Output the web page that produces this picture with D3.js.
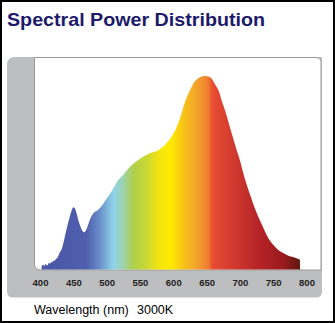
<!DOCTYPE html>
<html><head><meta charset="utf-8">
<script src="https://cdn.jsdelivr.net/npm/d3@7"></script>
<style>html,body{margin:0;padding:0;background:#fff;}svg{display:block;}</style>
</head><body>
<svg id="c" width="335" height="323"></svg>
<script>
const wavelengths = [402,403,405,407,408,410,412,413,415,417,418,420,422,424,426,428,430,433,436,440,444,447,450,452,455,458,461,464,467,470,474,478,482,486,490,495,500,505,510,517,525,532,540,548,556,563,570,577,583,588,593,598,603,610,617,625,632,638,643,648,653,658,663,668,673,678,683,688,694,700,705,710,716,722,728,734,740,746,752,758,765,772,780,786,790,790.5];
const power = [0,0.02,0.025,0.018,0.03,0.022,0.025,0.035,0.03,0.04,0.035,0.045,0.045,0.055,0.06,0.075,0.09,0.11,0.15,0.21,0.265,0.30,0.322,0.318,0.29,0.25,0.22,0.198,0.193,0.21,0.25,0.28,0.297,0.305,0.318,0.34,0.365,0.39,0.42,0.46,0.49,0.52,0.545,0.567,0.585,0.598,0.607,0.615,0.63,0.645,0.665,0.69,0.72,0.78,0.86,0.925,0.97,0.99,0.998,1.0,0.997,0.985,0.955,0.925,0.87,0.82,0.76,0.70,0.63,0.565,0.50,0.44,0.38,0.32,0.27,0.225,0.18,0.145,0.12,0.10,0.085,0.073,0.064,0.057,0.05,0];
const tickLabels = [400,450,500,550,600,650,700,750,800];
const colorStops = [
  [400,"#4b55a5"],[470,"#4f5fad"],[490,"#6a8fc9"],[510,"#8ed3ea"],[525,"#9fd2ae"],
  [540,"#aed04c"],[560,"#cad834"],[580,"#f6e60e"],[597,"#ffea00"],[615,"#f8c418"],
  [640,"#f29a2e"],[653,"#ef7a30"],[659,"#e84c33"],[690,"#d03a2e"],[730,"#b52327"],
  [765,"#9a1a1e"],[790,"#5e1a10"]
];
const title = "Spectral Power Distribution";
const caption = ["Wavelength (nm)", "3000K"];

const svg = d3.select("#c");
const x = d3.scaleLinear().domain([400,800]).range([40,306.5]);
const y = d3.scaleLinear().domain([0,1]).range([269.5,76]);

// outer border
svg.append("rect").attr("x",1).attr("y",1).attr("width",333).attr("height",321)
  .attr("fill","#fff").attr("stroke","#000").attr("stroke-width",2);

svg.append("text").attr("x",7).attr("y",26).text(title)
  .attr("font-family","Liberation Sans, Arial, sans-serif").attr("font-weight","bold")
  .attr("font-size",18.5).attr("fill","#1d1a6b")
  .attr("textLength",258).attr("lengthAdjust","spacingAndGlyphs");

// gray panel with rounded left corners and bottom-right
const px0=7, py0=57, px1=322, py1=297.5, r1=8, r2=6;
svg.append("path").attr("fill","#bdbec0")
  .attr("d",`M${px0+r1},${py0} H${px1} V${py1-r2} Q${px1},${py1} ${px1-r2},${py1} H${px0+r2} Q${px0},${py1} ${px0},${py1-r2} V${py0+r1} Q${px0},${py0} ${px0+r1},${py0} Z`);

// plot area
const ax0=34.5, ay0=57.5, ax1=321, ay1=270;
const plotPath = `M${ax0},${ay0} H${ax1-5} Q${ax1},${ay0} ${ax1},${ay0+5} V${ay1} H${ax0+6} Q${ax0},${ay1} ${ax0},${ay1-6} Z`;
svg.append("path").attr("d",plotPath).attr("fill","#fff").attr("stroke","#9a9a9a").attr("stroke-width",1);

const defs = svg.append("defs");
defs.append("clipPath").attr("id","clip").append("path").attr("d",plotPath);
const grad = defs.append("linearGradient").attr("id","spec")
  .attr("gradientUnits","userSpaceOnUse")
  .attr("x1",x(400)).attr("x2",x(790)).attr("y1",0).attr("y2",0);
grad.selectAll("stop").data(colorStops).join("stop")
  .attr("offset",d=>(x(d[0])-x(400))/(x(790)-x(400)))
  .attr("stop-color",d=>d[1]);

const data = wavelengths.map((w,i)=>({w, p:power[i]}));
const area = d3.area().x(d=>x(d.w)).y0(y(0)).y1(d=>y(d.p)).curve(d3.curveMonotoneX);
svg.append("path").datum(data).attr("d",area).attr("fill","url(#spec)").attr("clip-path","url(#clip)");

// axis
const axis = d3.axisBottom(x).tickValues(tickLabels).tickSize(0).tickPadding(0).tickFormat(d3.format("d"));
const g = svg.append("g").attr("transform","translate(0,279)").call(axis);
g.select(".domain").remove();
g.selectAll("text").attr("font-family","Liberation Sans, Arial, sans-serif").attr("font-weight","bold")
  .attr("font-size",9.5).attr("fill","#222").attr("dy","0.75em");

svg.append("text").attr("x",34).attr("y",314).text(caption[0])
  .attr("font-family","Liberation Sans, Arial, sans-serif").attr("font-size",12.5).attr("fill","#000");
svg.append("text").attr("x",137).attr("y",314).text(caption[1])
  .attr("font-family","Liberation Sans, Arial, sans-serif").attr("font-size",12.5).attr("fill","#000");
</script>
</body></html>
